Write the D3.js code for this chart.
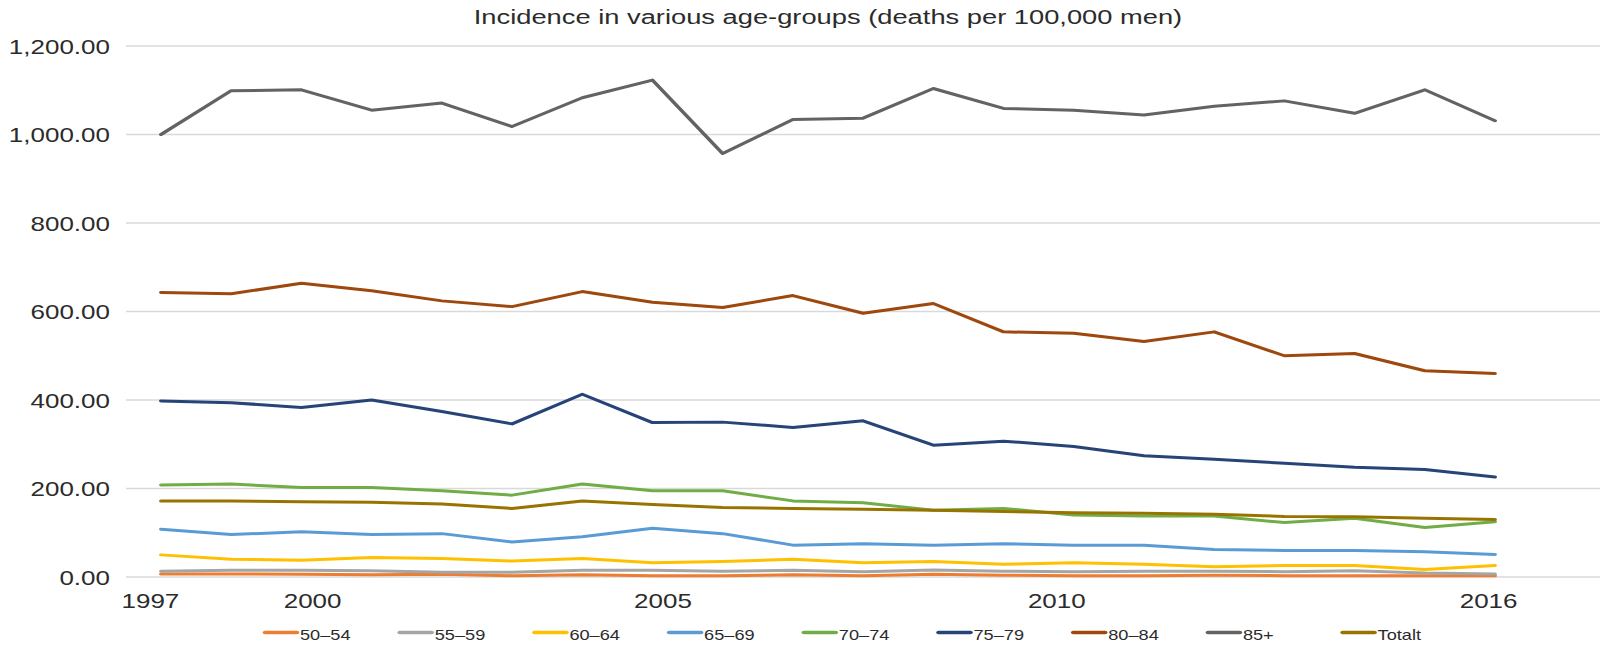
<!DOCTYPE html>
<html>
<head>
<meta charset="utf-8">
<title>Incidence in various age-groups</title>
<script src="https://cdn.jsdelivr.net/npm/d3@7"></script>
<style>
  html, body { margin: 0; padding: 0; background: #fff; }
  svg { display: block; }
  text { font-family: "Liberation Sans", Arial, Helvetica, sans-serif; fill: #2b2b2b; }
</style>
</head>
<body>
<svg id="chart"></svg>
<script>
// ---- data -------------------------------------------------------------
const years = [1997, 1998, 1999, 2000, 2001, 2002, 2003, 2004, 2005, 2006,
               2007, 2008, 2009, 2010, 2011, 2012, 2013, 2014, 2015, 2016];

const age50_54 = [7, 7, 6, 5, 6, 3, 5, 3, 3, 5, 3, 6, 4, 3, 3, 4, 3, 3, 3, 3];
const age55_59 = [13, 15, 15, 14, 11, 11, 15, 15, 13, 15, 12, 16, 13, 12, 13, 13, 12, 14, 9, 7];
const age60_64 = [50, 40, 38, 44, 42, 36, 42, 32, 35, 40, 32, 35, 29, 32, 29, 23, 26, 26, 17, 26];
const age65_69 = [108, 96, 102, 96, 98, 79, 91, 110, 98, 72, 75, 72, 75, 72, 72, 62, 60, 60, 57, 51];
const age70_74 = [208, 210, 202, 202, 195, 185, 210, 195, 195, 172, 168, 151, 155, 140, 138, 138, 123, 133, 112, 125];
const age75_79 = [398, 394, 383, 400, 374, 346, 413, 349, 350, 338, 353, 298, 307, 295, 274, 266, 257, 248, 243, 226];
const age80_84 = [643, 640, 664, 647, 624, 611, 645, 621, 609, 636, 596, 618, 554, 551, 532, 554, 500, 505, 466, 460];
const age85plus = [1000, 1099, 1101, 1055, 1071, 1018, 1083, 1123, 957, 1034, 1037, 1104, 1059, 1055, 1044, 1064, 1076, 1048, 1101, 1031];
const totalt = [172, 172, 170, 169, 165, 155, 172, 164, 157, 155, 153, 151, 148, 145, 144, 142, 137, 136, 133, 130];

const seriesNames = ["50–54", "55–59", "60–64", "65–69", "70–74", "75–79", "80–84", "85+", "Totalt"];
const seriesValues = [age50_54, age55_59, age60_64, age65_69, age70_74, age75_79, age80_84, age85plus, totalt];

const yTicks = [0, 200, 400, 600, 800, 1000, 1200];
// x-axis labels sit between categories, so they carry their own domain positions
const xTickAt = [1996.84, 1999.15, 2004.14, 2009.75, 2015.9];
const xTickLabels = ["1997", "2000", "2005", "2010", "2016"];

const titleText = "Incidence in various age-groups (deaths per 100,000 men)";

// ---- layout -----------------------------------------------------------
const W = 1602, H = 649;
const SX = 1.3;                 // horizontal stretch of the whole drawing
const VW = W / SX;

const colors = ["#ED7D31", "#A5A5A5", "#FFC000", "#5B9BD5", "#70AD47",
                "#264478", "#9E480E", "#636363", "#997300"];

const svg = d3.select("#chart")
  .attr("width", W)
  .attr("height", H)
  .attr("viewBox", `0 0 ${VW} ${H}`)
  .attr("preserveAspectRatio", "none");

const x = d3.scaleLinear().domain([years[0], years[years.length - 1]]).range([161 / SX, 1495 / SX]);
const y = d3.scaleLinear().domain([0, 1200]).range([577, 46]);

// title
svg.append("text")
  .attr("x", 828 / SX)
  .attr("y", 24)
  .attr("text-anchor", "middle")
  .style("font-size", "21px")
  .text(titleText);

// horizontal gridlines
svg.append("g")
  .selectAll("line")
  .data(yTicks)
  .join("line")
  .attr("x1", 126 / SX)
  .attr("x2", 1600 / SX)
  .attr("y1", d => y(d))
  .attr("y2", d => y(d))
  .attr("stroke", "#d9d9d9")
  .attr("stroke-width", 1.5);

// y axis labels
const yAxis = svg.append("g")
  .attr("transform", `translate(${110 / SX},1)`)
  .call(d3.axisLeft(y).tickValues(yTicks).tickFormat(d3.format(",.2f")).tickSize(0).tickPadding(0));
yAxis.select(".domain").remove();
yAxis.selectAll("text")
  .style("font-family", "'Liberation Sans', Arial, sans-serif")
  .style("font-size", "20px")
  .attr("fill", "#2b2b2b");

// x axis labels
const xAxis = svg.append("g")
  .attr("transform", `translate(0,${y(0)})`)
  .call(d3.axisBottom(x).tickValues(xTickAt).tickFormat((d, i) => xTickLabels[i]).tickSize(0).tickPadding(17));
xAxis.select(".domain").remove();
xAxis.selectAll("text")
  .style("font-family", "'Liberation Sans', Arial, sans-serif")
  .style("font-size", "20px")
  .attr("fill", "#2b2b2b");

// series lines
const line = d3.line()
  .x((d, i) => x(years[i]))
  .y(d => y(d));

svg.append("g")
  .selectAll("path")
  .data(seriesValues)
  .join("path")
  .attr("d", d => line(d))
  .attr("fill", "none")
  .attr("stroke", (d, i) => colors[i])
  .attr("stroke-width", 3)
  .attr("stroke-linejoin", "round")
  .attr("stroke-linecap", "round");

// legend
const legendStart = 265 / SX, legendStep = 134.7 / SX, swatch = 32 / SX;
const legend = svg.append("g")
  .selectAll("g")
  .data(seriesNames)
  .join("g")
  .attr("transform", (d, i) => `translate(${legendStart + i * legendStep},632.5)`);

legend.append("line")
  .attr("x1", 0)
  .attr("x2", swatch)
  .attr("stroke", (d, i) => colors[i])
  .attr("stroke-width", 3.5)
  .attr("stroke-linecap", "round");

legend.append("text")
  .attr("x", swatch + 3 / SX)
  .attr("y", 7)
  .style("font-size", "14px")
  .text(d => d);
</script>
</body>
</html>
